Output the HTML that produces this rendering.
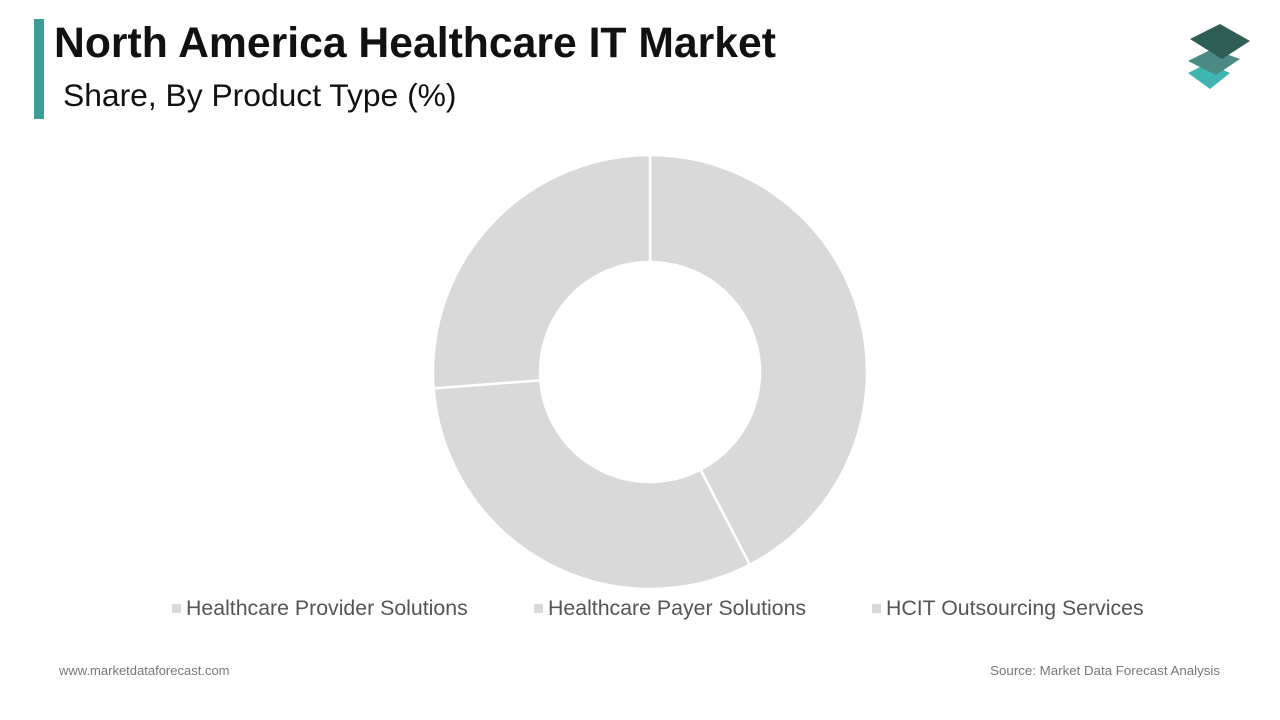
<!DOCTYPE html>
<html><head><meta charset="utf-8"><style>
body{margin:0;width:1280px;height:720px;background:#fff;font-family:"Liberation Sans",Arial,sans-serif;position:relative;overflow:hidden}
.t{position:absolute}
</style></head><body>
<div class="t" style="left:34px;top:19px;width:10px;height:100px;background:#3a9e97"></div>
<div class="t" style="left:54px;top:19px;font-size:42.7px;font-weight:bold;color:#111;white-space:nowrap">North America Healthcare IT Market</div>
<div class="t" style="left:63px;top:77px;font-size:31.8px;color:#111;white-space:nowrap">Share, By Product Type (%)</div>
<svg class="t" style="left:1180px;top:15px" width="80" height="80" viewBox="0 0 80 80">
<polygon points="8,58 28,48 50,58 30,74" fill="#3fb5b1"/>
<polygon points="8,46 32,34 60,44 36,60" fill="#4a8a82"/>
<polygon points="10,24 40,9 70,26 42,44" fill="#2f5e57"/>
</svg>
<svg class="t" id="chart" style="left:0;top:0" width="1280" height="720"></svg>
<div class="t" style="left:0;top:596px;width:1280px;height:24px;font-size:21.3px;color:#555">
<div class="t" style="left:172px;white-space:nowrap"><span style="display:inline-block;width:9px;height:9px;background:#d9d9d9;margin-right:5px;vertical-align:2px"></span>Healthcare Provider Solutions</div>
<div class="t" style="left:534px;white-space:nowrap"><span style="display:inline-block;width:9px;height:9px;background:#d9d9d9;margin-right:5px;vertical-align:2px"></span>Healthcare Payer Solutions</div>
<div class="t" style="left:872px;white-space:nowrap"><span style="display:inline-block;width:9px;height:9px;background:#d9d9d9;margin-right:5px;vertical-align:2px"></span>HCIT Outsourcing Services</div>
</div>
<div class="t" style="left:59px;top:663px;font-size:13px;color:#777">www.marketdataforecast.com</div>
<div class="t" style="right:60px;top:663px;font-size:13.3px;color:#777">Source: Market Data Forecast Analysis</div>
<script>
const categories=["Healthcare Provider Solutions","Healthcare Payer Solutions","HCIT Outsourcing Services"];
const values=[42.4,31.4,26.2];
const svg=document.getElementById('chart');
const cx=650,cy=372,R=217,r=110;
const total=values.reduce((a,b)=>a+b,0);
let a0=0;
function pt(rad,a){return [cx+rad*Math.sin(a),cy-rad*Math.cos(a)];}
values.forEach((v,i)=>{
const a1=a0+v/total*2*Math.PI;
const [x1,y1]=pt(R,a0),[x2,y2]=pt(R,a1),[x3,y3]=pt(r,a1),[x4,y4]=pt(r,a0);
const lg=(a1-a0)>Math.PI?1:0;
const p=document.createElementNS('http://www.w3.org/2000/svg','path');
p.setAttribute('d',`M${x1},${y1}A${R},${R} 0 ${lg} 1 ${x2},${y2}L${x3},${y3}A${r},${r} 0 ${lg} 0 ${x4},${y4}Z`);
p.setAttribute('fill','#d9d9d9');p.setAttribute('stroke','#fff');p.setAttribute('stroke-width','2.5');


svg.appendChild(p);
a0=a1;
});
</script>
</body></html>
